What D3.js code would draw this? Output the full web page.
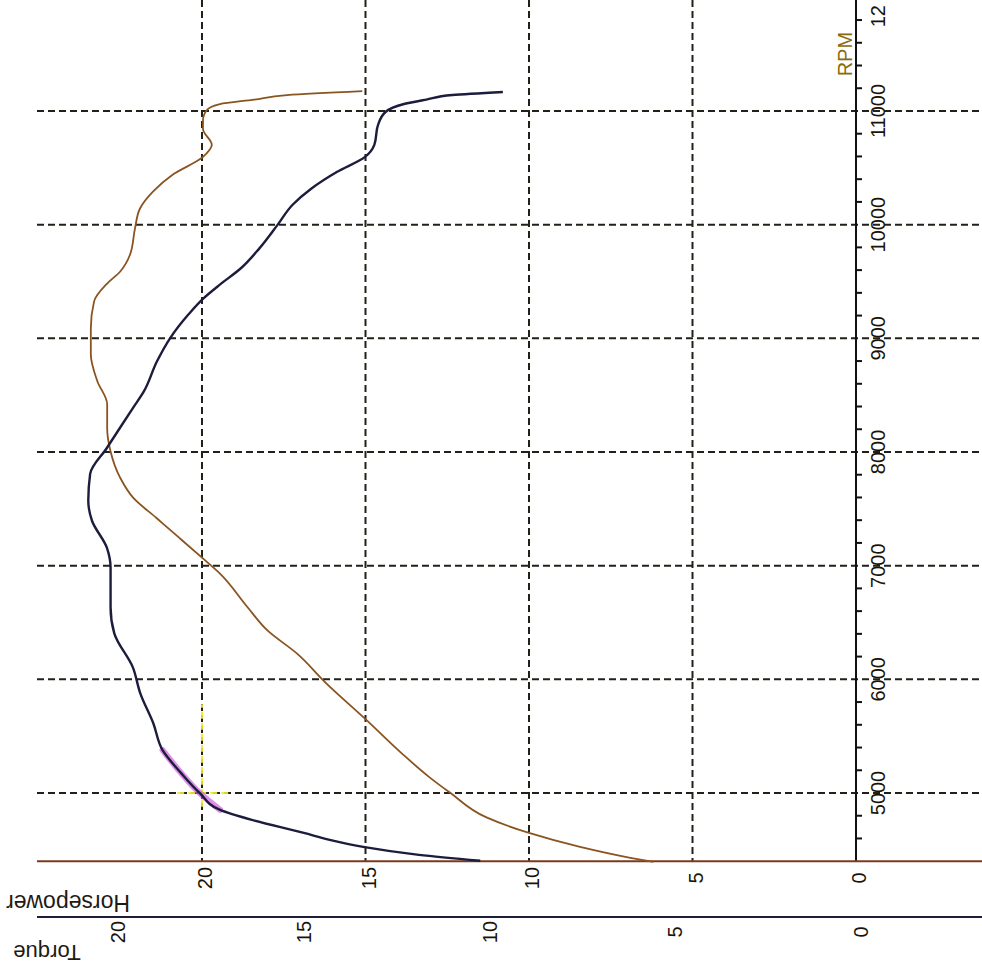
<!DOCTYPE html>
<html>
<head>
<meta charset="utf-8">
<script src="https://cdn.jsdelivr.net/npm/d3@7"></script>
<style>
  html, body { margin: 0; padding: 0; background: #fff; }
  svg { display: block; }
  text { font-family: "Liberation Sans", Arial, sans-serif; }
</style>
</head>
<body>
<svg id="chart" width="982" height="967"></svg>
<script>
// ---------- DATA ----------
const rpmTicks = [5000, 6000, 7000, 8000, 9000, 10000, 11000, 12000];
const rpmTickLabels = ["5000", "6000", "7000", "8000", "9000", "10000", "11000", "12"];
const rpmMinorTicks = [4600, 4800, 5200, 5400, 5600, 5800, 6200, 6400, 6600, 6800, 7200, 7400, 7600, 7800,
  8200, 8400, 8600, 8800, 9200, 9400, 9600, 9800, 10200, 10400, 10600, 10800, 11200, 11400, 11600, 11800];
const hpTicks = [0, 5, 10, 15, 20];
const hpTickLabels = ["0", "5", "10", "15", "20"];
const torqueTicks = [0, 5, 10, 15, 20];
const torqueTickLabels = ["0", "5", "10", "15", "20"];

// Horsepower curve (brown)
const hpRpm = [4395, 4430, 4526, 4649, 4785, 5000, 5140, 5351, 5650, 5965, 6228, 6430, 6632, 6930, 7070,
  7246, 7421, 7596, 7772, 8009, 8211, 8421, 8623, 8860, 9088, 9325, 9482, 9588, 9737, 9965, 10140,
  10290, 10439, 10596, 10702, 10842, 10921, 11009, 11061, 11100, 11140, 11175];
const hpValues = [6.2, 6.9, 8.44, 10.0, 11.3, 12.4, 13.05, 13.9, 15.0, 16.2, 17.1, 18.0, 18.6, 19.45, 20.0,
  20.7, 21.4, 22.1, 22.5, 22.8, 22.9, 22.9, 23.2, 23.4, 23.4, 23.3, 22.9, 22.5, 22.2, 22.05, 21.9,
  21.5, 20.9, 19.97, 19.7, 19.97, 19.97, 19.85, 19.45, 18.4, 17.4, 15.1];

// Torque curve (dark navy)
const torqueRpm = [4404, 4456, 4526, 4588, 4649, 4763, 4851, 5000, 5175, 5377, 5614, 5877, 6105, 6404,
  6632, 6982, 7158, 7395, 7570, 7807, 8035, 8211, 8386, 8535, 8798, 9000, 9211, 9351, 9474, 9614,
  9789, 10000, 10175, 10316, 10465, 10596, 10702, 10877, 10991, 11061, 11100, 11140, 11167];
const torqueValues = [10.25, 11.9, 13.4, 14.3, 15.0, 16.4, 17.25, 17.8, 18.3, 18.8, 19.05, 19.4, 19.6, 20.1,
  20.2, 20.2, 20.3, 20.7, 20.8, 20.75, 20.3, 19.95, 19.6, 19.3, 18.95, 18.6, 18.1, 17.7, 17.25, 16.7,
  16.2, 15.7, 15.3, 14.8, 14.1, 13.35, 13.1, 13.0, 12.8, 12.3, 11.7, 11.0, 9.64];

// cursor marker (HP, RPM)
const cursorHP = [20];
const cursorRpmRange = [4880, 5780];
const cursorHpRange = [19.2, 20.8];
const cursorRpm = [5000];
const highlightRange = [4851, 5377];

// ---------- SCALES ----------
const svg = d3.select("#chart");
const W = 982;
const y = d3.scaleLinear().domain([4400, 12000]).range([861.2, -2.7]);   // RPM (vertical, up)
const xHP = d3.scaleLinear().domain([0, 20]).range([856, 202]);         // Horsepower (leftwards)
const xTq = d3.scaleLinear().domain([0, 20]).range([861, 118]);         // Torque (leftwards)
const left = 37;
const axisY = y(4400);
const torqueAxisY = 917;

const gridColor = "#23201a";

// ---------- GRID ----------
const grid = svg.append("g");
grid.selectAll("line.h").data(rpmTicks.filter(r => r < 12000)).enter().append("line")
  .attr("x1", left).attr("x2", W)
  .attr("y1", d => y(d)).attr("y2", d => y(d))
  .attr("stroke", gridColor).attr("stroke-width", 2).attr("stroke-dasharray", "7,4");
grid.selectAll("line.v").data(hpTicks.filter(v => v > 0)).enter().append("line")
  .attr("x1", d => xHP(d)).attr("x2", d => xHP(d))
  .attr("y1", 0).attr("y2", axisY)
  .attr("stroke", gridColor).attr("stroke-width", 2).attr("stroke-dasharray", "7,4");

// ---------- AXES ----------
// RPM axis (vertical at HP = 0)
svg.append("line").attr("x1", xHP(0)).attr("x2", xHP(0)).attr("y1", axisY).attr("y2", 0)
  .attr("stroke", "#111").attr("stroke-width", 2);
svg.selectAll("line.minor").data(rpmMinorTicks).enter().append("line")
  .attr("x1", xHP(0)).attr("x2", xHP(0) + 6)
  .attr("y1", d => y(d)).attr("y2", d => y(d))
  .attr("stroke", "#111").attr("stroke-width", 2);
svg.selectAll("text.rpm").data(rpmTicks).enter().append("text")
  .attr("transform", (d, i) => {
    const yy = i === rpmTicks.length - 1 ? y(d) + 30 : y(d);
    return `translate(${xHP(0) + 22},${yy}) rotate(-90)`;
  })
  .attr("text-anchor", (d, i) => i === rpmTicks.length - 1 ? "start" : "middle")
  .attr("dy", "0.36em")
  .attr("font-size", 20).attr("fill", "#1a1408")
  .text((d, i) => rpmTickLabels[i]);
svg.append("text")
  .attr("transform", `translate(${xHP(0) - 11},${y(11500)}) rotate(-90)`)
  .attr("text-anchor", "middle").attr("dy", "0.36em")
  .attr("font-size", 20).attr("fill", "#8a6a0a")
  .text("RPM");

// Horsepower axis
svg.append("line").attr("x1", left).attr("x2", W).attr("y1", axisY).attr("y2", axisY)
  .attr("stroke", "#7a3a1c").attr("stroke-width", 2);
svg.selectAll("text.hp").data(hpTicks).enter().append("text")
  .attr("transform", d => `translate(${xHP(d) + 3},878) rotate(-90)`)
  .attr("text-anchor", "middle").attr("dy", "0.36em")
  .attr("font-size", 20).attr("fill", "#1a1408")
  .text((d, i) => hpTickLabels[i]);
svg.append("text")
  .attr("transform", `translate(68,903) rotate(180)`)
  .attr("text-anchor", "middle").attr("dy", "0.36em")
  .attr("font-size", 23).attr("fill", "#1e1a14")
  .text("Horsepower");

// Torque axis
svg.append("line").attr("x1", left).attr("x2", W).attr("y1", torqueAxisY).attr("y2", torqueAxisY)
  .attr("stroke", "#1e1e3a").attr("stroke-width", 2);
svg.selectAll("text.tq").data(torqueTicks).enter().append("text")
  .attr("transform", d => `translate(${xTq(d)},932) rotate(-90)`)
  .attr("text-anchor", "middle").attr("dy", "0.36em")
  .attr("font-size", 20).attr("fill", "#1a1408")
  .text((d, i) => torqueTickLabels[i]);
svg.append("text")
  .attr("transform", `translate(47,953) rotate(180)`)
  .attr("text-anchor", "middle").attr("dy", "0.36em")
  .attr("font-size", 22).attr("fill", "#1e1a14")
  .text("Torque");

// ---------- CURVES ----------
const hpData = hpRpm.map((r, i) => ({ rpm: r, v: hpValues[i] }));
const tqData = torqueRpm.map((r, i) => ({ rpm: r, v: torqueValues[i] }));

const hpLine = d3.line().x(d => xHP(d.v)).y(d => y(d.rpm)).curve(d3.curveMonotoneY);
const tqLine = d3.line().x(d => xTq(d.v)).y(d => y(d.rpm)).curve(d3.curveMonotoneY);

// cursor crosshair
svg.append("line")
  .attr("x1", xHP(cursorHP[0])).attr("x2", xHP(cursorHP[0]))
  .attr("y1", y(cursorRpmRange[0])).attr("y2", y(cursorRpmRange[1]))
  .attr("stroke", "#f0ea30").attr("stroke-width", 2).attr("stroke-dasharray", "7,4").attr("opacity", 0.9);
svg.append("line")
  .attr("x1", xHP(cursorHpRange[0])).attr("x2", xHP(cursorHpRange[1]))
  .attr("y1", y(cursorRpm[0])).attr("y2", y(cursorRpm[0]))
  .attr("stroke", "#f0ea30").attr("stroke-width", 2).attr("stroke-dasharray", "7,4").attr("opacity", 0.9);

// magenta highlight
svg.append("path")
  .datum(tqData.filter(d => d.rpm >= highlightRange[0] && d.rpm <= highlightRange[1]))
  .attr("d", tqLine).attr("fill", "none")
  .attr("stroke", "#d060e0").attr("stroke-width", 6).attr("stroke-linecap", "round").attr("opacity", 0.7);

svg.append("path").datum(hpData).attr("d", hpLine)
  .attr("fill", "none").attr("stroke", "#8a5420").attr("stroke-width", 1.8);
svg.append("path").datum(tqData).attr("d", tqLine)
  .attr("fill", "none").attr("stroke", "#1c1c3c").attr("stroke-width", 2.4);
</script>
</body>
</html>
